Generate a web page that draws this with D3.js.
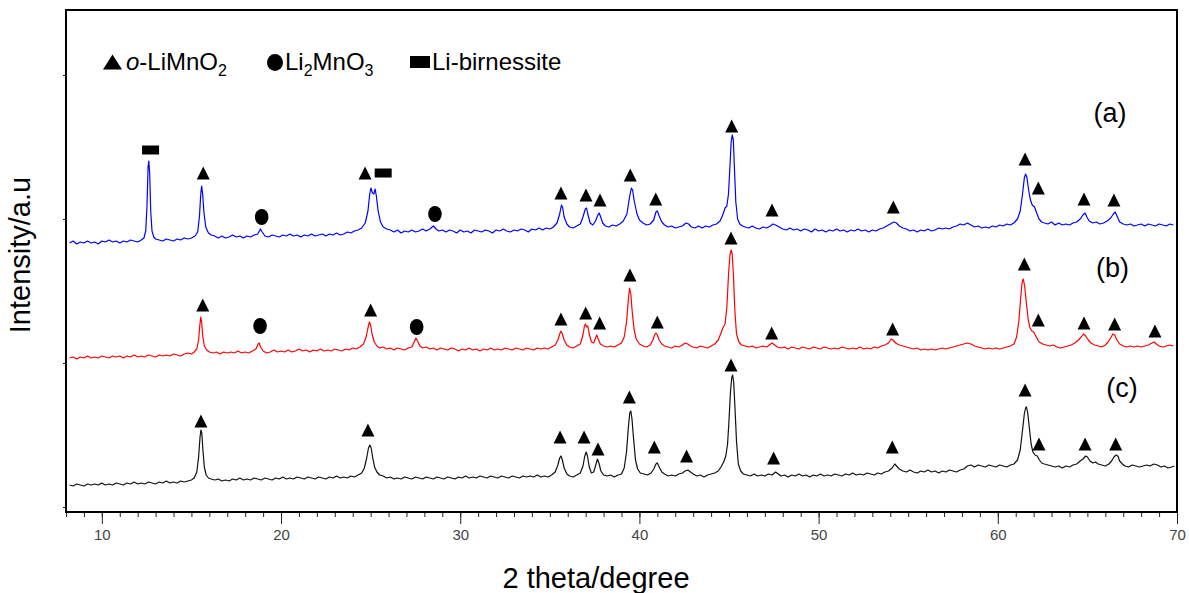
<!DOCTYPE html>
<html>
<head>
<meta charset="utf-8">
<script src="https://cdn.jsdelivr.net/npm/d3@7"></script>
<style>
  body { margin: 0; background: #fff; }
  svg { display: block; font-family: "Liberation Sans", Arial, sans-serif; }
  .tick text { fill: #444; font-size: 15px; }
  .tick line { stroke: #222; }
</style>
</head>
<body>
<svg id="chart" width="1189" height="593"></svg>
<script>
// tick values
const xTicks = [10, 20, 30, 40, 50, 60, 70];
const xMinorTicks = d3.range(8, 71, 1);
const yTicks = [5, 149, 293, 437];

// pattern (a) - blue, [2theta, intensity (offset)]
const seriesA = [
  [8.2,269],[8.4,271],[8.6,268],[8.8,270],[9.0,269],[9.2,271],[9.4,269],[9.6,270],[9.8,268],[10.0,271],[10.2,270],[10.4,272],[10.6,270],[10.8,271],[11.0,269],[11.2,271],[11.4,270],[11.6,272],[11.8,271],[12.0,270],[12.2,272],
  [12.35,274],[12.45,281],[12.52,306],[12.58,345],[12.62,351],[12.67,338],[12.73,300],[12.8,281],[12.9,275],[13.0,273],
  [13.2,272],[13.4,271],[13.6,273],[13.8,272],[14.0,271],[14.2,273],[14.4,272],[14.6,274],[14.8,273],[15.0,274],[15.2,276],
  [15.35,280],[15.45,296],[15.52,318],[15.57,326],[15.63,317],[15.7,299],[15.8,285],[15.95,279],[16.1,277],
  [16.3,276],[16.5,274],[16.7,276],[16.9,274],[17.1,275],[17.3,277],[17.5,275],[17.7,276],[17.9,274],[18.1,276],[18.3,275],[18.5,277],[18.7,278],[18.85,283],[18.95,280],[19.1,276],
  [19.3,275],[19.5,277],[19.7,276],[19.9,275],[20.1,277],[20.3,276],[20.5,278],[20.7,276],[20.9,277],[21.1,275],[21.3,277],[21.5,276],[21.7,278],[21.9,276],[22.1,277],[22.3,278],[22.5,276],[22.7,278],[22.9,277],[23.1,279],[23.3,277],[23.5,278],[23.7,280],[23.9,279],[24.1,281],[24.3,282],[24.5,284],
  [24.7,289],[24.85,301],[24.95,318],[25.02,324],[25.1,319],[25.18,318],[25.25,323],[25.32,316],[25.42,301],[25.55,290],[25.7,285],[25.9,283],
  [26.1,282],[26.3,280],[26.5,282],[26.7,279],[26.9,281],[27.1,280],[27.3,282],[27.5,280],[27.7,281],[27.9,283],[28.1,281],[28.3,283],[28.5,286],[28.65,283],[28.8,281],
  [29.0,282],[29.2,280],[29.4,282],[29.6,281],[29.8,279],[30.0,282],[30.2,280],[30.4,281],[30.6,279],[30.8,282],[31.0,281],[31.2,280],[31.4,282],[31.6,281],[31.8,279],[32.0,282],[32.2,281],[32.4,283],[32.6,281],[32.8,280],[33.0,282],[33.2,281],[33.4,283],[33.6,282],[33.8,280],[34.0,283],[34.2,282],[34.4,284],[34.6,282],[34.8,284],[35.0,283],[35.2,285],
  [35.4,289],[35.55,298],[35.65,307],[35.72,304],[35.8,295],[35.95,288],[36.1,285],[36.3,284],[36.5,286],[36.7,288],[36.85,295],[36.98,303],[37.05,304],[37.12,298],[37.25,289],[37.4,287],[37.55,291],[37.68,297],[37.75,299],[37.82,296],[37.95,289],[38.1,286],[38.3,285],[38.5,287],[38.7,286],[38.9,288],
  [39.1,291],[39.3,298],[39.45,315],[39.55,324],[39.62,322],[39.7,312],[39.85,299],[40.0,292],[40.2,289],[40.4,287],[40.6,288],[40.8,292],[40.92,300],[41.0,301],[41.1,296],[41.25,290],[41.4,287],
  [41.6,285],[41.8,286],[42.0,284],[42.2,285],[42.4,286],[42.6,289],[42.75,288],[42.9,285],[43.1,284],[43.3,286],[43.5,284],[43.7,286],[43.9,285],[44.1,287],[44.3,288],[44.5,291],
  [44.65,297],[44.78,304],[44.88,306],[44.97,318],[45.05,345],[45.12,370],[45.18,377],[45.24,372],[45.3,345],[45.38,310],[45.48,293],[45.6,288],[45.75,286],[45.9,285],
  [46.1,284],[46.3,286],[46.5,284],[46.7,283],[46.9,285],[47.1,284],[47.3,286],[47.45,288],[47.6,287],[47.8,285],[48.0,283],[48.2,282],[48.4,284],[48.6,282],[48.8,283],[49.0,281],[49.2,283],[49.4,282],[49.6,280],[49.8,283],[50.0,281],[50.2,282],[50.4,280],[50.6,282],[50.8,281],[51.0,283],[51.2,281],[51.4,282],[51.6,280],[51.8,282],[52.0,281],[52.2,283],[52.4,281],[52.6,282],[52.8,280],[53.0,282],[53.2,281],[53.4,283],
  [53.6,284],[53.8,286],[54.0,288],[54.2,290],[54.35,289],[54.5,286],[54.7,284],[54.9,283],[55.1,281],[55.3,282],[55.5,280],[55.7,282],[55.9,281],[56.1,283],[56.3,281],[56.5,282],[56.7,284],[56.9,283],[57.1,284],[57.3,283],[57.5,285],[57.7,286],[57.9,288],[58.1,287],[58.3,289],[58.5,287],[58.7,285],[58.9,286],[59.1,284],[59.3,285],[59.5,284],[59.7,286],[59.9,285],[60.1,287],[60.3,286],[60.5,288],[60.7,287],[60.9,289],
  [61.1,293],[61.25,301],[61.38,318],[61.48,334],[61.55,338],[61.62,335],[61.72,322],[61.82,312],[61.92,307],[62.05,305],[62.15,300],[62.3,293],[62.45,290],[62.6,289],
  [62.8,288],[63.0,290],[63.2,287],[63.4,289],[63.6,287],[63.8,288],[64.0,287],[64.2,289],[64.4,290],[64.6,293],[64.75,297],[64.87,299],[64.97,295],[65.1,291],[65.3,289],[65.5,290],[65.7,288],[65.9,289],[66.1,291],[66.3,294],[66.45,298],[66.55,300],[66.65,296],[66.8,290],
  [67.0,288],[67.2,287],[67.4,288],[67.6,286],[67.8,287],[68.0,288],[68.2,286],[68.4,288],[68.6,287],[68.8,286],[69.0,288],[69.2,287],[69.4,286],[69.6,288],[69.8,287]
];

// pattern (b) - red
const seriesB = [
  [8.2,154],[8.4,155],[8.6,153],[8.8,155],[9.0,154],[9.2,156],[9.4,154],[9.6,155],[9.8,154],[10.0,156],[10.2,155],[10.4,154],[10.6,156],[10.8,155],[11.0,156],[11.2,154],[11.4,156],[11.6,155],[11.8,157],[12.0,155],[12.2,156],[12.4,155],[12.6,157],[12.8,156],[13.0,155],[13.2,157],[13.4,156],[13.6,157],[13.8,156],[14.0,158],[14.2,157],[14.4,156],[14.6,158],[14.8,159],[15.0,158],
  [15.15,160],[15.3,163],[15.4,172],[15.47,187],[15.52,195],[15.57,190],[15.63,176],[15.72,166],[15.85,162],[16.0,160],
  [16.2,159],[16.4,160],[16.6,158],[16.8,160],[17.0,159],[17.2,160],[17.4,159],[17.6,161],[17.8,159],[18.0,160],[18.2,159],[18.4,161],[18.6,163],[18.72,168],[18.78,169],[18.86,165],[19.0,161],
  [19.2,159],[19.4,160],[19.6,162],[19.8,160],[20.0,161],[20.2,160],[20.4,162],[20.6,160],[20.8,161],[21.0,163],[21.2,161],[21.4,162],[21.6,160],[21.8,162],[22.0,161],[22.2,163],[22.4,161],[22.6,162],[22.8,161],[23.0,163],[23.2,162],[23.4,161],[23.6,163],[23.8,162],[24.0,164],[24.2,163],[24.4,165],
  [24.6,168],[24.75,175],[24.85,184],[24.93,190],[25.0,187],[25.08,178],[25.2,170],[25.35,166],[25.5,164],
  [25.7,165],[25.9,163],[26.1,164],[26.3,162],[26.5,164],[26.7,163],[26.9,162],[27.1,164],[27.3,165],[27.43,170],[27.53,174],[27.62,171],[27.75,166],[27.9,164],
  [28.1,165],[28.3,163],[28.5,164],[28.7,162],[28.9,164],[29.1,163],[29.3,162],[29.5,164],[29.7,163],[29.9,161],[30.1,163],[30.3,162],[30.5,164],[30.7,162],[30.9,163],[31.1,161],[31.3,163],[31.5,162],[31.7,164],[31.9,162],[32.1,163],[32.3,162],[32.5,164],[32.7,163],[32.9,162],[33.1,164],[33.3,163],[33.5,162],[33.7,164],[33.9,163],[34.1,162],[34.3,164],[34.5,163],[34.7,164],[34.9,163],[35.1,165],
  [35.3,167],[35.45,172],[35.55,178],[35.62,181],[35.7,178],[35.8,172],[35.95,167],[36.1,165],[36.3,164],[36.5,166],[36.7,168],[36.85,177],[36.93,186],[36.99,188],[37.05,185],[37.12,186],[37.2,178],[37.32,170],[37.45,169],[37.55,174],[37.62,177],[37.7,173],[37.82,168],[38.0,166],
  [38.2,165],[38.4,166],[38.6,165],[38.8,167],[39.0,169],[39.15,175],[39.28,190],[39.38,212],[39.45,224],[39.52,218],[39.6,200],[39.7,183],[39.82,173],[40.0,168],[40.2,166],[40.4,165],[40.6,167],[40.75,172],[40.85,177],[40.92,179],[41.0,177],[41.1,172],[41.25,168],[41.4,166],
  [41.6,165],[41.8,164],[42.0,166],[42.2,165],[42.4,167],[42.55,169],[42.7,168],[42.85,166],[43.0,165],[43.2,164],[43.4,166],[43.6,165],[43.8,164],[44.0,166],[44.2,168],
  [44.4,172],[44.55,179],[44.68,185],[44.78,188],[44.88,205],[44.98,240],[45.06,258],[45.12,262],[45.18,258],[45.25,235],[45.33,200],[45.42,178],[45.55,170],[45.7,167],[45.9,166],
  [46.1,165],[46.3,166],[46.5,164],[46.7,165],[46.9,166],[47.1,165],[47.25,167],[47.4,169],[47.55,167],[47.7,165],[47.9,164],[48.1,165],[48.3,163],[48.5,165],[48.7,164],[48.9,163],[49.1,165],[49.3,164],[49.5,163],[49.7,165],[49.9,164],[50.1,163],[50.3,165],[50.5,164],[50.7,163],[50.9,164],[51.1,163],[51.3,165],[51.5,164],[51.7,163],[51.9,164],[52.1,163],[52.3,165],[52.5,163],[52.7,164],[52.9,163],[53.1,165],[53.3,164],
  [53.5,166],[53.7,167],[53.9,169],[54.05,173],[54.15,172],[54.3,169],[54.5,167],[54.7,166],[54.9,165],[55.1,164],[55.3,163],[55.5,164],[55.7,162],[55.9,163],[56.1,162],[56.3,163],[56.5,162],[56.7,163],[56.9,164],[57.1,163],[57.3,164],[57.5,165],[57.7,166],[57.9,167],[58.1,168],[58.3,169],[58.5,168],[58.7,166],[58.9,165],[59.1,164],[59.3,163],[59.5,164],[59.7,163],[59.9,164],[60.1,163],[60.3,164],[60.5,165],[60.7,166],[60.9,168],
  [61.05,175],[61.18,192],[61.28,215],[61.36,230],[61.42,233],[61.5,226],[61.6,208],[61.7,192],[61.8,184],[61.9,181],[62.0,180],[62.12,176],[62.3,170],[62.5,168],
  [62.7,167],[62.9,166],[63.1,167],[63.3,165],[63.5,164],[63.7,165],[63.9,166],[64.1,167],[64.3,169],[64.5,172],[64.65,175],[64.78,178],[64.9,176],[65.05,172],[65.2,169],[65.4,167],[65.6,166],[65.8,165],[66.0,167],[66.15,170],[66.3,174],[66.42,178],[66.52,177],[66.65,172],[66.8,168],
  [67.0,166],[67.2,165],[67.4,166],[67.6,165],[67.8,166],[68.0,165],[68.2,166],[68.4,167],[68.6,169],[68.72,170],[68.85,168],[69.0,166],[69.2,165],[69.4,166],[69.6,167],[69.8,166]
];

// pattern (c) - black
const seriesC = [
  [8.2,27],[8.4,26],[8.6,28],[8.8,27],[9.0,26],[9.2,28],[9.4,27],[9.6,28],[9.8,27],[10.0,29],[10.2,27],[10.4,28],[10.6,27],[10.8,29],[11.0,28],[11.2,27],[11.4,29],[11.6,28],[11.8,30],[12.0,28],[12.2,29],[12.4,28],[12.6,30],[12.8,29],[13.0,28],[13.2,30],[13.4,29],[13.6,31],[13.8,29],[14.0,30],[14.2,29],[14.4,31],[14.6,30],[14.8,31],[15.0,32],
  [15.15,34],[15.3,40],[15.4,55],[15.48,75],[15.53,82],[15.58,79],[15.64,62],[15.72,45],[15.82,37],[15.95,34],[16.1,33],
  [16.3,32],[16.5,33],[16.7,31],[16.9,32],[17.1,31],[17.3,33],[17.5,32],[17.7,34],[17.9,32],[18.1,33],[18.3,32],[18.5,34],[18.7,33],[18.9,32],[19.1,34],[19.3,33],[19.5,32],[19.7,34],[19.9,33],[20.1,35],[20.3,33],[20.5,34],[20.7,33],[20.9,35],[21.1,34],[21.3,33],[21.5,35],[21.7,34],[21.9,33],[22.1,35],[22.3,34],[22.5,33],[22.7,35],[22.9,34],[23.1,36],[23.3,34],[23.5,35],[23.7,34],[23.9,36],[24.1,35],[24.3,37],
  [24.5,39],[24.65,44],[24.78,54],[24.88,64],[24.96,67],[25.03,64],[25.12,54],[25.22,45],[25.35,40],[25.5,37],[25.7,36],
  [25.9,34],[26.1,35],[26.3,33],[26.5,34],[26.7,33],[26.9,35],[27.1,34],[27.3,33],[27.5,35],[27.7,34],[27.9,33],[28.1,35],[28.3,34],[28.5,33],[28.7,35],[28.9,34],[29.1,33],[29.3,35],[29.5,34],[29.7,33],[29.9,35],[30.1,34],[30.3,36],[30.5,34],[30.7,35],[30.9,34],[31.1,36],[31.3,35],[31.5,34],[31.7,36],[31.9,35],[32.1,34],[32.3,36],[32.5,35],[32.7,34],[32.9,36],[33.1,35],[33.3,34],[33.5,36],[33.7,35],[33.9,36],[34.1,35],[34.3,37],[34.5,35],[34.7,36],[34.9,35],[35.1,37],
  [35.3,40],[35.45,47],[35.55,54],[35.62,56],[35.7,52],[35.8,44],[35.95,38],[36.1,36],[36.3,35],[36.5,37],[36.7,39],[36.85,46],[36.95,56],[37.03,60],[37.1,56],[37.2,45],[37.32,39],[37.45,40],[37.58,48],[37.66,53],[37.74,49],[37.85,41],[38.0,37],
  [38.2,36],[38.4,37],[38.6,35],[38.8,37],[39.0,38],[39.15,44],[39.28,60],[39.38,84],[39.46,99],[39.52,101],[39.58,94],[39.67,74],[39.78,52],[39.9,43],[40.05,39],[40.25,38],[40.45,37],[40.65,39],[40.8,43],[40.92,48],[41.0,49],[41.1,45],[41.25,40],[41.4,38],
  [41.6,36],[41.8,37],[42.0,36],[42.2,38],[42.4,39],[42.55,41],[42.7,42],[42.85,40],[43.0,38],[43.2,36],[43.4,37],[43.6,35],[43.8,37],[44.0,38],[44.2,39],
  [44.4,41],[44.55,45],[44.7,50],[44.82,56],[44.92,68],[45.0,92],[45.08,120],[45.15,134],[45.2,137],[45.26,130],[45.33,105],[45.42,70],[45.52,48],[45.65,41],[45.8,38],
  [46.0,37],[46.2,36],[46.4,38],[46.6,36],[46.8,37],[47.0,36],[47.2,38],[47.4,37],[47.6,40],[47.75,38],[47.9,36],[48.1,37],[48.3,35],[48.5,37],[48.7,36],[48.9,38],[49.1,36],[49.3,37],[49.5,35],[49.7,37],[49.9,36],[50.1,38],[50.3,36],[50.5,37],[50.7,36],[50.9,38],[51.1,37],[51.3,36],[51.5,38],[51.7,37],[51.9,39],[52.1,37],[52.3,38],[52.5,37],[52.7,39],[52.9,38],[53.1,37],[53.3,39],[53.5,38],
  [53.7,40],[53.9,41],[54.1,44],[54.25,48],[54.35,46],[54.5,43],[54.7,41],[54.9,40],[55.1,42],[55.3,40],[55.5,39],[55.7,41],[55.9,40],[56.1,42],[56.3,40],[56.5,41],[56.7,39],[56.9,41],[57.1,40],[57.3,42],[57.5,41],[57.7,40],[57.9,42],[58.1,43],[58.3,46],[58.5,47],[58.7,45],[58.9,47],[59.1,46],[59.3,45],[59.5,47],[59.7,46],[59.9,45],[60.1,47],[60.3,46],[60.5,45],[60.7,47],[60.9,48],
  [61.1,52],[61.25,62],[61.38,82],[61.48,98],[61.55,104],[61.6,105],[61.67,99],[61.76,84],[61.86,68],[61.96,60],[62.08,57],[62.2,56],[62.32,52],[62.45,49],[62.6,48],
  [62.8,47],[63.0,46],[63.2,45],[63.4,46],[63.6,44],[63.8,46],[64.0,45],[64.2,47],[64.4,48],[64.6,51],[64.75,53],[64.9,56],[65.0,55],[65.15,51],[65.3,49],[65.45,50],[65.6,48],[65.8,47],[66.0,46],[66.2,48],[66.35,51],[66.48,55],[66.6,57],[66.7,56],[66.8,51],[66.95,48],
  [67.1,46],[67.3,45],[67.5,47],[67.7,46],[67.9,45],[68.1,46],[68.3,47],[68.5,46],[68.7,48],[68.9,47],[69.1,45],[69.3,46],[69.5,44],[69.7,45],[69.85,46]
];

// phase markers: [2theta, intensity, phase]
const markersA = [
  [12.72,362,"birn"],[15.66,339,"tri"],[18.92,295,"li2"],[24.69,339,"tri"],[25.7,339,"birn"],[28.59,298,"li2"],
  [35.62,319,"tri"],[37.02,317,"tri"],[37.8,312,"tri"],[39.49,337,"tri"],[40.91,313,"tri"],[45.15,386,"tri"],
  [47.4,302,"tri"],[54.17,305,"tri"],[61.52,353,"tri"],[62.26,324,"tri"],[64.81,313,"tri"],[66.48,312,"tri"]
];
const markersB = [
  [15.63,207,"tri"],[18.83,186,"li2"],[25.0,202,"tri"],[27.57,185,"li2"],[35.62,193,"tri"],[37.0,199,"tri"],
  [37.78,189,"tri"],[39.47,237,"tri"],[41.0,190,"tri"],[45.11,274,"tri"],[47.38,179,"tri"],[54.13,183,"tri"],
  [61.48,248,"tri"],[62.26,192,"tri"],[64.81,189,"tri"],[66.52,188,"tri"],[68.77,181,"tri"]
];
const markersC = [
  [15.53,91,"tri"],[24.85,82,"tri"],[35.57,75,"tri"],[36.91,75,"tri"],[37.69,63,"tri"],[39.44,115,"tri"],
  [40.83,65,"tri"],[42.63,56,"tri"],[45.11,147,"tri"],[47.49,54,"tri"],[54.11,65,"tri"],[61.52,122,"tri"],
  [62.3,68,"tri"],[64.87,68,"tri"],[66.58,68,"tri"]
];

// sample labels: [label, 2theta, intensity]
const sampleLabels = [["(a)", 66.26, 390], ["(b)", 66.4, 235], ["(c)", 66.93, 115]];

const svg = d3.select("#chart");
const x = d3.scaleLinear().domain([8, 70]).range([66, 1177]);
const y = d3.scaleLinear().domain([0, 502]).range([512, 10]);

//Minor ticks
svg.append("g")
  .attr("transform", "translate(0,512)")
  .call(d3.axisBottom(x).tickValues(xMinorTicks).tickSize(5).tickFormat(""))
  .call(g => g.select(".domain").remove());

//Major ticks + labels
svg.append("g")
  .attr("transform", "translate(0,512)")
  .call(d3.axisBottom(x).tickValues(xTicks).tickSize(12).tickPadding(5).tickFormat(d3.format("d")))
  .call(g => g.select(".domain").remove());

//Left ticks (no labels)
svg.append("g")
  .attr("transform", "translate(66,0)")
  .call(d3.axisLeft(y).tickValues(yTicks).tickSize(3).tickFormat(""))
  .call(g => g.select(".domain").remove());

//Frame
svg.append("rect")
  .attr("x", x(8)).attr("y", y(502))
  .attr("width", x(70) - x(8)).attr("height", y(0) - y(502))
  .attr("fill", "none").attr("stroke", "#000").attr("stroke-width", 2);

//Patterns
const line = d3.line().x(d => x(d[0])).y(d => y(d[1]));
[[seriesC, "#111"], [seriesB, "#ff0000"], [seriesA, "#0000ff"]].forEach(([data, color]) => {
  svg.append("path")
    .datum(data)
    .attr("fill", "none")
    .attr("stroke", color)
    .attr("stroke-width", 1.2)
    .attr("stroke-linejoin", "round")
    .attr("d", line);
});

//Phase markers
const drawMarker = (g, kind) => {
  if (kind === "tri") {
    g.append("path").attr("d", "M0,-6.5L6.5,6.5L-6.5,6.5Z");
  } else if (kind === "li2") {
    g.append("ellipse").attr("rx", 6.8).attr("ry", 8);
  } else {
    g.append("rect").attr("x", -8.5).attr("y", -4.5).attr("width", 17).attr("height", 9);
  }
};
[markersA, markersB, markersC].forEach(markers => {
  markers.forEach(([t, v, kind]) => {
    const g = svg.append("g").attr("transform", `translate(${x(t)},${y(v)})`).attr("fill", "#000");
    drawMarker(g, kind);
  });
});

//Legend
const legend = svg.append("g").attr("font-size", 24).attr("fill", "#000");
legend.append("path").attr("transform", "translate(112.5,62)").attr("d", "M0,-7.5L9.5,7.5L-9.5,7.5Z");
legend.append("ellipse").attr("transform", "translate(275,62.5)").attr("rx", 8).attr("ry", 8.5);
legend.append("rect").attr("transform", "translate(420,62)").attr("x", -10).attr("y", -6).attr("width", 20).attr("height", 12);

const t1 = legend.append("text").attr("x", 126).attr("y", 70);
t1.append("tspan").attr("font-style", "italic").text("o");
t1.append("tspan").text("-LiMnO");
t1.append("tspan").attr("font-size", 16).attr("dy", 6).text("2");

const t2 = legend.append("text").attr("x", 285).attr("y", 70);
t2.append("tspan").text("Li");
t2.append("tspan").attr("font-size", 16).attr("dy", 6).text("2");
t2.append("tspan").attr("dy", -6).text("MnO");
t2.append("tspan").attr("font-size", 16).attr("dy", 6).text("3");

legend.append("text").attr("x", 432).attr("y", 70).text("Li-birnessite");

//Sample labels
svg.selectAll(".sample")
  .data(sampleLabels)
  .enter().append("text")
  .attr("class", "sample")
  .attr("x", d => x(d[1]))
  .attr("y", d => y(d[2]))
  .attr("text-anchor", "middle")
  .attr("font-size", 27)
  .text(d => d[0]);

//Axis titles
svg.append("text")
  .attr("x", 596).attr("y", 588)
  .attr("text-anchor", "middle")
  .attr("font-size", 29)
  .text("2 theta/degree");

svg.append("text")
  .attr("transform", "translate(30,255) rotate(-90)")
  .attr("text-anchor", "middle")
  .attr("font-size", 29)
  .text("Intensity/a.u");
</script>
</body>
</html>
